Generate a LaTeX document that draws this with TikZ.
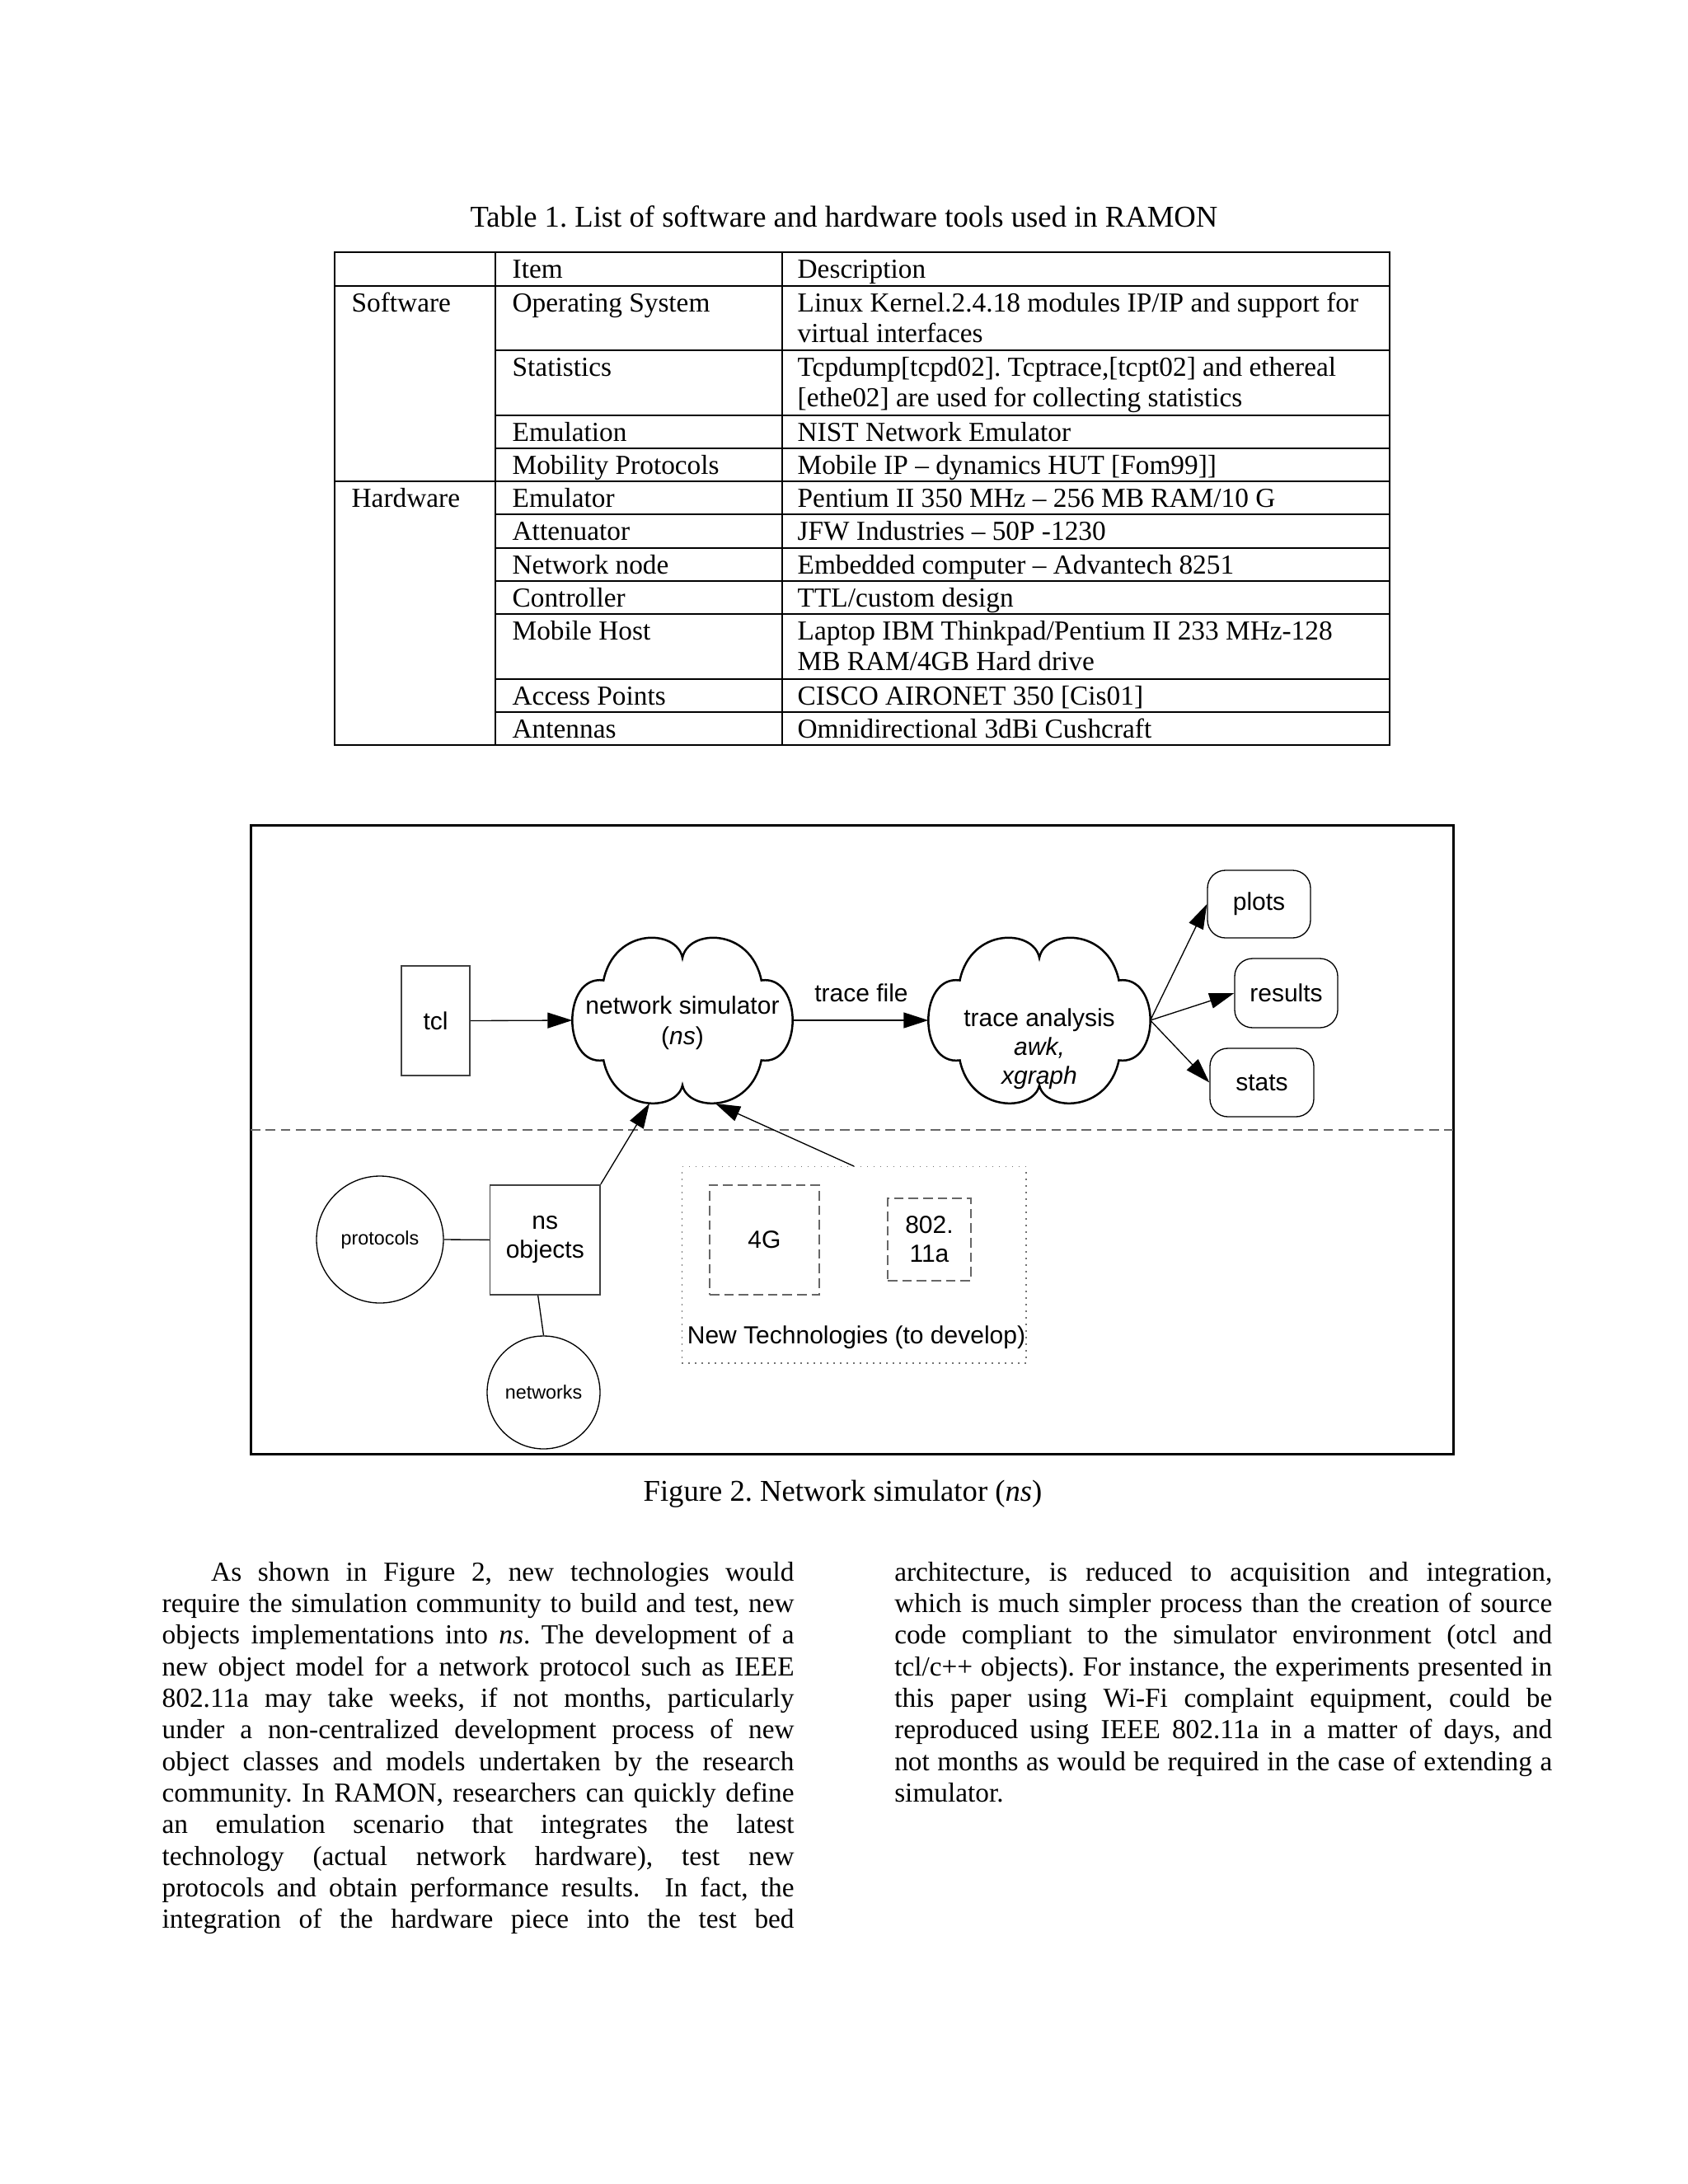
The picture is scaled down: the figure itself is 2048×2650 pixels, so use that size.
\documentclass[tikz,border=0pt]{standalone}
\usepackage{fontspec}
\setmainfont{Liberation Serif}
\newfontfamily\figsans{Liberation Sans}
\usetikzlibrary{arrows.meta,calc}
\newcommand\jl[2]{\hbox to #1{#2}}
\frenchspacing
\begin{document}
\begin{tikzpicture}[x=0.298868bp,y=-0.298868bp,
  tabline/.style={line width=0.6pt,black},
  tbl/.style={font=\fontsize{10}{11.5}\selectfont, anchor=base west, inner sep=0pt},
  captext/.style={font=\fontsize{11}{13}\selectfont, anchor=base, inner sep=0pt},
  frame/.style={line width=0.9pt,black},
  sepline/.style={line width=0.35pt,black!60,dash pattern=on 3.5pt off 2pt},
  figtxt/.style={font=\figsans\fontsize{9}{11}\selectfont, align=center, inner sep=0pt},
  sqbox/.style={draw=black!75, line width=0.5pt, inner sep=0pt, align=center, font=\figsans\fontsize{9}{10.5}\selectfont},
  rbox/.style={draw=black, line width=0.4pt, rounded corners=6.5pt, inner sep=0pt, font=\figsans\fontsize{9}{11}\selectfont},
  circ/.style={draw=black, line width=0.4pt, circle, inner sep=0pt, font=\figsans\fontsize{7}{8}\selectfont},
  dbox/.style={draw=black!60, line width=0.4pt, dash pattern=on 3.5pt off 1.8pt, inner sep=0pt, align=center, font=\figsans\fontsize{9}{10.5}\selectfont},
  dotbox/.style={draw=black!55, line width=0.4pt, dotted, inner sep=0pt},
  cloudnode/.style={inner sep=0pt, draw=none},
  cloudline/.style={line width=0.75pt, black},
  conn/.style={line width=0.4pt, black},
  arr/.style={line width=0.4pt, black, -{Triangle[length=9pt,width=5.7pt]}},
  para/.style={font=\fontsize{10}{11.5}\selectfont, anchor=base west, inner sep=0pt, align=left}
]
\useasboundingbox (0,0) rectangle (2048,2650);
\fill[white] (0,0) rectangle (2048,2650);

% ---------- Table ----------
\node[captext] (tcap) at (1024,275) {Table 1. List of software and hardware tools used in RAMON};
\draw[tabline] (406,306) rectangle (1686,904);
\draw[tabline] (601,306) -- (601,904);
\draw[tabline] (949,306) -- (949,904);
\draw[tabline] (406,347) -- (1686,347);
\draw[tabline] (406,584) -- (1686,584);
\foreach \yy in {425,504,544,624,665,705,745,824,864} {\draw[tabline] (601,\yy) -- (1686,\yy);}

\node[tbl] (hItem) at (621,337) {Item};
\node[tbl] (hDesc) at (967,337) {Description};
\node[tbl] (cSoft) at (426,378) {Software};
\node[tbl] (iOS) at (621,378) {Operating System};
\node[tbl] (dOSa) at (967,378) {Linux Kernel.2.4.18 modules IP/IP and support for};
\node[tbl] (dOSb) at (967,415) {virtual interfaces};
\node[tbl] (iStat) at (621,456) {Statistics};
\node[tbl] (dStata) at (967,456) {Tcpdump[tcpd02]. Tcptrace,[tcpt02] and ethereal};
\node[tbl] (dStatb) at (967,493) {[ethe02] are used for collecting statistics};
\node[tbl] (iEmu) at (621,535) {Emulation};
\node[tbl] (dEmu) at (967,535) {NIST Network Emulator};
\node[tbl] (iMob) at (621,575) {Mobility Protocols};
\node[tbl] (dMob) at (967,575) {Mobile IP -- dynamics HUT [Fom99]]};
\node[tbl] (cHard) at (426,615) {Hardware};
\node[tbl] (iEm) at (621,615) {Emulator};
\node[tbl] (dEm) at (967,615) {Pentium II 350 MHz -- 256 MB RAM/10 G};
\node[tbl] (iAtt) at (621,655) {Attenuator};
\node[tbl] (dAtt) at (967,655) {JFW Industries -- 50P -1230};
\node[tbl] (iNet) at (621,696) {Network node};
\node[tbl] (dNet) at (967,696) {Embedded computer -- Advantech 8251};
\node[tbl] (iCon) at (621,736) {Controller};
\node[tbl] (dCon) at (967,736) {TTL/custom design};
\node[tbl] (iMH) at (621,776) {Mobile Host};
\node[tbl] (dMHa) at (967,776) {Laptop IBM Thinkpad/Pentium II 233 MHz-128};
\node[tbl] (dMHb) at (967,813) {MB RAM/4GB Hard drive};
\node[tbl] (iAP) at (621,855) {Access Points};
\node[tbl] (dAP) at (967,855) {CISCO AIRONET 350 [Cis01]};
\node[tbl] (iAnt) at (621,895) {Antennas};
\node[tbl] (dAnt) at (967,895) {Omnidirectional 3dBi Cushcraft};

% ---------- Figure ----------
\draw[frame] (304,1001) rectangle (1763,1764);
\draw[sepline] (304,1371) -- (1763,1371);

\node[sqbox, minimum width=24.81bp, minimum height=39.75bp] (tcl) at (528.5,1238.5) {tcl};

\node[cloudnode, minimum width=79.5bp, minimum height=60.37bp] (ns) at (828,1238) {};
\begin{scope}[shift={(ns.center)}, x=39.75bp, y=-30.19bp]
\draw[cloudline] (0,-0.75) .. controls (0.05,-1.1) and (0.62,-1.12) .. (0.72,-0.48)
  .. controls (1.1,-0.55) and (1.1,0.55) .. (0.72,0.48)
  .. controls (0.62,1.12) and (0.05,1.1) .. (0,0.78)
  .. controls (-0.05,1.1) and (-0.62,1.12) .. (-0.72,0.48)
  .. controls (-1.1,0.55) and (-1.1,-0.55) .. (-0.72,-0.48)
  .. controls (-0.62,-1.12) and (-0.05,-1.1) .. (0,-0.75) -- cycle;
\end{scope}
\node[figtxt] (nslab) at (828,1241) {network simulator\\(\textit{ns})};

\node[cloudnode, minimum width=80.1bp, minimum height=60.37bp] (ta) at (1261,1238) {};
\begin{scope}[shift={(ta.center)}, x=40.05bp, y=-30.19bp]
\draw[cloudline] (0,-0.75) .. controls (0.05,-1.1) and (0.62,-1.12) .. (0.72,-0.48)
  .. controls (1.1,-0.55) and (1.1,0.55) .. (0.72,0.48)
  .. controls (0.62,1.12) and (0.05,1.1) .. (0,0.78)
  .. controls (-0.05,1.1) and (-0.62,1.12) .. (-0.72,0.48)
  .. controls (-1.1,0.55) and (-1.1,-0.55) .. (-0.72,-0.48)
  .. controls (-0.62,-1.12) and (-0.05,-1.1) .. (0,-0.75) -- cycle;
\end{scope}
\node[figtxt, font=\figsans\fontsize{9}{10.5}\selectfont] (talab) at (1261,1273) {trace analysis\\\textit{awk,}\\\textit{xgraph}};

\node[figtxt, anchor=base] (tflab) at (1045,1215) {trace file};

\node[rbox, minimum width=37.36bp, minimum height=24.51bp] (plots) at (1527.5,1097) {plots};
\node[rbox, minimum width=37.36bp, minimum height=25.1bp] (results) at (1560.5,1205) {results};
\node[rbox, minimum width=37.66bp, minimum height=24.81bp] (stats) at (1531,1313.5) {stats};

\draw[arr] (tcl.east) -- (ns.west);
\draw[arr] (ns.east) -- (ta.west);
\draw[arr] (ta.east) -- (plots.west);
\draw[arr] (ta.east) -- (results.west);
\draw[arr] (ta.east) -- (stats.west);

\node[circ, minimum size=46.03bp] (protocols) at (461,1504) {protocols};
\node[sqbox, minimum width=39.87bp, minimum height=39.84bp] (nsobj) at (661.3,1504.4) {ns\\objects};
\node[circ, minimum size=40.94bp] (networks) at (659.5,1689.5) {networks};
\draw[conn] (protocols.east) -- (nsobj.west);
\draw[conn] ([xshift=-2.57bp]nsobj.south) -- (networks.north);

\node[dotbox, minimum width=124.8bp, minimum height=71.22bp] (newtech) at (1036.2,1534.9) {};
\node[dbox, minimum width=39.75bp, minimum height=39.75bp] (g4) at (927.5,1504.4) {4G};
\node[dbox, minimum width=30.19bp, minimum height=29.89bp] (wifi) at (1127.5,1504) {802.\\11a};
\node[figtxt, anchor=base] (ntlab) at (1039,1630) {New Technologies (to develop)};

\coordinate (nsbl) at ($(ns.center)+(-40,101)$);
\coordinate (nsbr) at ($(ns.center)+(40,101)$);
\draw[arr] (nsobj.north east) -- (nsbl);
\draw[arr] (newtech.north) -- (nsbr);

\node[captext] (fcap) at (1022.5,1821) {Figure 2. Network simulator (\textit{ns})};

% ---------- Body text ----------
\node[para, text width=229.2bp] (leftcol) at (196,1918) {\spaceskip=2.5pt plus 6pt minus 0.6pt\relax
\jl{229.2bp}{\hspace*{17.8bp}As shown in Figure 2, new technologies would}
\jl{229.2bp}{require the simulation community to build and test, new}
\jl{229.2bp}{objects implementations into \textit{ns}. The development of a}
\jl{229.2bp}{new object model for a network protocol such as IEEE}
\jl{229.2bp}{802.11a may take weeks, if not months, particularly}
\jl{229.2bp}{under a non-centralized development process of new}
\jl{229.2bp}{object classes and models undertaken by the research}
\jl{229.2bp}{community. In RAMON, researchers can quickly define}
\jl{229.2bp}{an emulation scenario that integrates the latest}
\jl{229.2bp}{technology (actual network hardware), test new}
\jl{229.2bp}{protocols and obtain performance results.\ \ In fact, the}
\jl{229.2bp}{integration of the hardware piece into the test bed}};

\node[para, text width=238.5bp] (rightcol) at (1084.6,1918) {\spaceskip=2.5pt plus 6pt minus 0.6pt\relax
\jl{238.5bp}{architecture, is reduced to acquisition and integration,}
\jl{238.5bp}{which is much simpler process than the creation of source}
\jl{238.5bp}{code compliant to the simulator environment (otcl and}
\jl{238.5bp}{tcl/c++ objects). For instance, the experiments presented in}
\jl{238.5bp}{this paper using Wi-Fi complaint equipment, could be}
\jl{238.5bp}{reproduced using IEEE 802.11a in a matter of days, and}
\jl{238.5bp}{not months as would be required in the case of extending a}
\hbox{simulator.}};
\end{tikzpicture}
\end{document}
